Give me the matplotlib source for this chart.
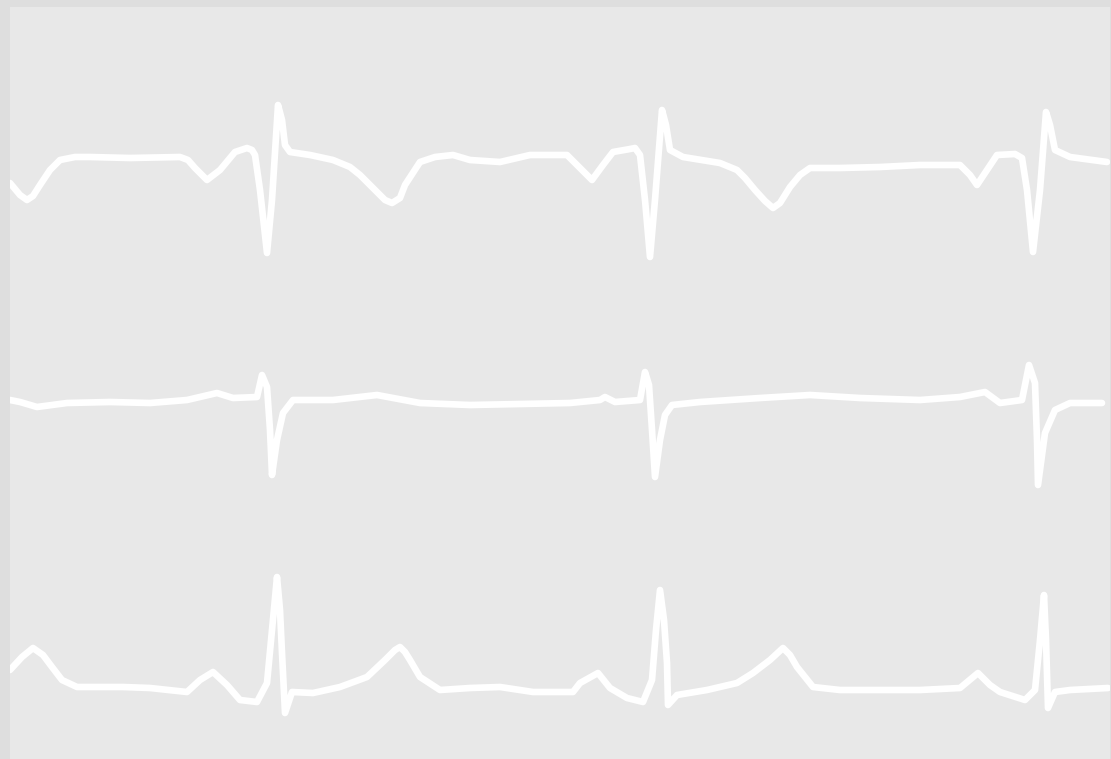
import matplotlib
matplotlib.use("Agg")
import matplotlib.pyplot as plt
import numpy as np

# Lead I (top trace): time (px units) and vertical position (px, downward)
lead1_t = [10, 20, 27, 33, 40, 50, 60, 75, 90, 130, 180, 188, 195, 207, 220, 235, 247, 252, 255, 260, 267, 272, 278, 282, 285, 290,
           310, 333, 350, 360, 375, 385, 392, 400, 405, 420, 435, 453, 470, 500, 530, 567, 580, 592, 603, 613, 630, 635, 640, 645,
           650, 655, 662, 666, 670, 683, 720, 737, 745, 755, 765, 773, 780, 790, 800, 810, 840, 880, 920, 960, 970, 977, 987, 997,
           1015, 1022, 1027, 1033, 1040, 1046, 1050, 1055, 1070, 1107]
lead1_y = [183, 195, 200, 196, 185, 170, 160, 157, 157, 158, 157, 160, 168, 180, 170, 152, 148, 150, 155, 190, 253, 200, 105, 120, 145, 152,
           155, 160, 167, 175, 190, 200, 203, 198, 185, 162, 157, 155, 160, 162, 155, 155, 168, 180, 165, 152, 149, 148, 155, 200,
           257, 200, 110, 125, 150, 157, 163, 170, 178, 190, 201, 208, 203, 187, 175, 168, 168, 167, 165, 165, 175, 185, 170, 155,
           154, 158, 190, 252, 190, 112, 125, 150, 157, 162]

# Lead II (middle trace)
lead2_t = [10, 20, 37, 67, 110, 150, 187, 217, 233, 257, 262, 267, 270, 272, 277, 283, 293, 333, 377, 420, 470,
           520, 570, 600, 605, 615, 640, 645, 649, 652, 655, 660, 665, 672, 700, 760, 810, 860, 920, 960, 985,
           1000, 1022, 1029, 1035, 1037, 1038, 1045, 1055, 1070, 1102]
lead2_y = [400, 402, 407, 403, 402, 403, 400, 393, 398, 397, 375, 387, 430, 475, 440, 413, 400, 400, 395, 403, 405,
           404, 403, 400, 397, 402, 400, 372, 385, 430, 477, 440, 415, 405, 402, 398, 395, 398, 400, 397, 392,
           403, 400, 365, 383, 440, 485, 433, 410, 403, 403]

# Lead III (bottom trace)
lead3_t = [10, 22, 33, 43, 52, 62, 77, 123, 150, 187, 200, 213, 227, 240, 257, 267, 272, 277, 280, 282, 285, 292,
           313, 340, 367, 385, 395, 400, 405, 410, 420, 440, 470, 500, 533, 573, 580, 598, 610, 627, 643, 652, 656, 660,
           664, 667, 668, 677, 707, 737, 753, 770, 783, 790, 797, 813, 840, 880, 920, 960, 978, 990, 1000, 1025, 1035, 1040,
           1044, 1046, 1048, 1055, 1070, 1108]
lead3_y = [670, 657, 648, 655, 667, 680, 687, 687, 688, 692, 680, 672, 685, 700, 702, 683, 630, 577, 610, 653, 713, 692,
           693, 687, 677, 660, 650, 647, 652, 660, 677, 690, 688, 687, 692, 692, 683, 673, 688, 698, 702, 680, 630, 590,
           620, 663, 705, 695, 690, 683, 673, 660, 648, 655, 667, 687, 690, 690, 690, 688, 673, 685, 692, 700, 690, 640,
           595, 640, 708, 692, 690, 688]

W, H = 1111, 759
fig = plt.figure(figsize=(W / 100, H / 100), dpi=100)
fig.patch.set_facecolor("#dedede")
ax = fig.add_axes([10 / W, 0, (1110 - 10) / W, (H - 7) / H])
ax.set_facecolor("#e8e8e8")

for t, y in [(lead1_t, lead1_y), (lead2_t, lead2_y), (lead3_t, lead3_y)]:
    ax.plot(t, y, color="white", lw=4.8, solid_joinstyle="round", solid_capstyle="round")

ax.set_xlim(10, 1110)
ax.set_ylim(759, 7)
ax.set_xticks([])
ax.set_yticks([])
for s in ax.spines.values():
    s.set_visible(False)

fig.savefig("out.png", dpi=100, facecolor=fig.get_facecolor())
